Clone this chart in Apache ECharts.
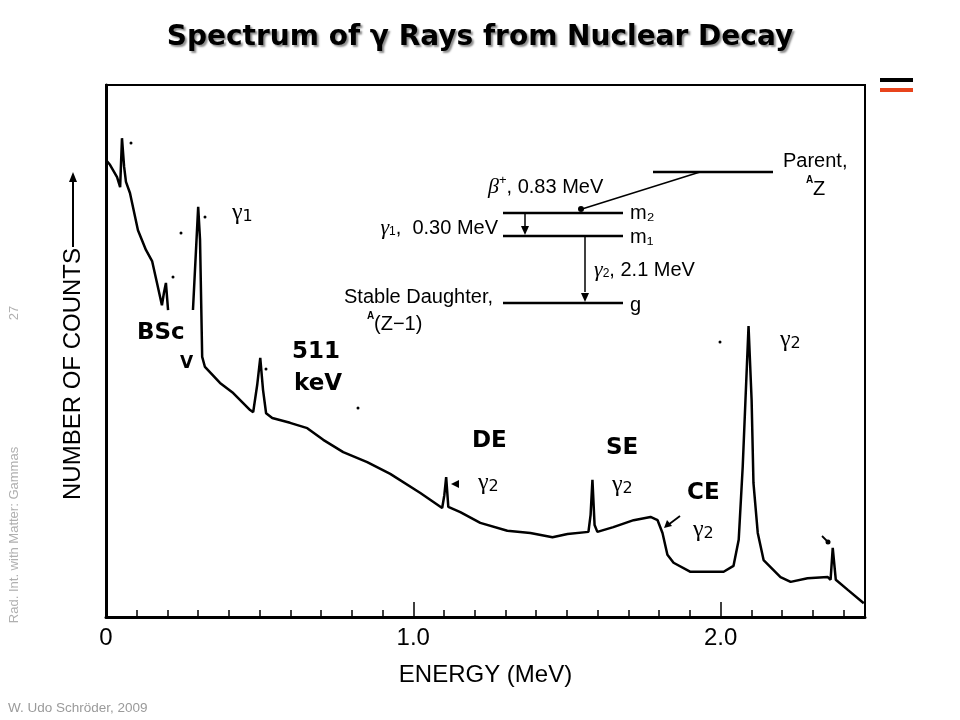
<!DOCTYPE html>
<html><head><meta charset="utf-8">
<script src="https://cdn.jsdelivr.net/npm/echarts@6/dist/echarts.min.js"></script>
<style>html,body{margin:0;padding:0;background:#fff}#c{width:960px;height:720px}</style>
</head><body><div id="c"></div>
<script>
// Energy (MeV) and relative counts
var energy = [0.000,0.013,0.036,0.046,0.052,0.059,0.065,0.078,0.104,0.130,0.150,0.166,0.182,0.189,0.195,0.202,0.240,
  0.283,0.300,0.306,0.313,0.322,0.371,0.414,0.469,0.479,0.492,0.502,0.511,0.521,0.541,0.599,0.655,0.707,0.772,0.850,0.925,
  1.023,1.094,1.101,1.107,1.114,1.153,1.218,1.306,1.381,1.453,1.502,1.570,1.577,1.583,1.590,1.599,1.651,1.717,1.772,1.795,
  1.811,1.827,1.847,1.902,2.010,2.042,2.059,2.072,2.081,2.091,2.101,2.107,2.121,2.140,2.195,2.228,2.283,2.349,2.358,2.365,
  2.375,2.414,2.466];
var counts = [85.9,85.0,82.7,80.8,90.0,84.6,81.8,79.7,72.7,69.0,66.9,62.8,58.6,61.1,62.8,57.7,null,
  57.7,77.1,70.9,48.9,47.0,44.0,42.1,38.9,38.5,43.6,48.7,42.7,38.3,37.4,36.5,35.5,33.3,31.0,29.1,26.9,
  23.3,20.5,22.9,26.3,20.7,19.7,17.7,16.2,15.8,15.0,15.6,16.0,19.2,25.8,17.3,16.0,16.9,18.2,18.8,18.2,
  15.8,11.7,10.2,8.5,8.5,9.6,14.5,28.2,40.8,54.7,40.8,25.2,15.8,10.7,7.5,6.6,7.3,7.5,7.0,13.0,
  7.0,5.1,2.6];
var majorTicks = ['0','1.0','2.0'];

var seriesData = energy.map(function(e,i){ return [e, counts[i]]; });

var chart = echarts.init(document.getElementById('c'), null, {renderer:'canvas'});
var dia = 'Liberation Sans, Arial, sans-serif';
var bold = 'DejaVu Sans, sans-serif';
function txt(x,y,t,opt){
  opt = opt||{};
  return {type:'text', x:x, y:y, z:10, rotation:opt.rot||0, style:Object.assign({text:t, fill:opt.color||'#000',
    font:opt.font||('20px '+dia), textAlign:opt.align||'left', textVerticalAlign:'middle'}, opt.style||{})};
}
function gam(x,y,sub,size){
  return {type:'text', x:x, y:y, z:10, style:{text:'{g|γ}{s|'+sub+'}', textAlign:'left', textVerticalAlign:'middle',
    rich:{g:{font:(size||24)+'px "Liberation Serif", serif', fill:'#000'},
          s:{font:'16px '+bold, fill:'#000', padding:[8,0,0,0]}}}};
}
function ln(x1,y1,x2,y2,w){
  return {type:'line', z:10, shape:{x1:x1,y1:y1,x2:x2,y2:y2}, style:{stroke:'#000', lineWidth:w||2.5}};
}
function head(x,y,dir){
  var pts = dir==='up' ? [[x,y],[x-4,y+10],[x+4,y+10]] : [[x,y],[x-4,y-9],[x+4,y-9]];
  return {type:'polygon', z:10, shape:{points:pts}, style:{fill:'#000'}};
}
function dot(x,y,r){ return {type:'circle', z:10, shape:{cx:x,cy:y,r:r||1.5}, style:{fill:'#000'}}; }

var graphics = [
  {type:'text', x:480, y:38, z:10, style:{text:'Spectrum of γ Rays from Nuclear Decay', font:'bold 28px '+bold,
    fill:'#000', textAlign:'center', textVerticalAlign:'middle', textShadowColor:'rgba(0,0,0,0.45)',
    textShadowOffsetX:2, textShadowOffsetY:2, textShadowBlur:2}},
  {type:'rect', z:10, shape:{x:880,y:78,width:33,height:4}, style:{fill:'#000'}},
  {type:'rect', z:10, shape:{x:880,y:88,width:33,height:4}, style:{fill:'#e8441c'}},
  txt(73,374,'NUMBER OF COUNTS',{rot:Math.PI/2, align:'center', font:'24px '+dia}),
  ln(73,247,73,182,2), head(73,172,'up'),
  txt(8,708,'W. Udo Schröder, 2009',{font:'13.5px '+dia, color:'#9a9a9a'}),
  txt(14,535,'Rad. Int. with Matter: Gammas',{rot:Math.PI/2, align:'center', font:'13px '+dia, color:'#b0b0b0'}),
  txt(14,313,'27',{rot:Math.PI/2, align:'center', font:'13px '+dia, color:'#b0b0b0'}),
  ln(653,172,773,172,2.5),
  txt(783,161,'Parent,'),
  txt(806,180,'A',{font:'bold 10px '+dia}),
  txt(813,189,'Z'),
  {type:'text', x:488, y:187, z:10, style:{text:'{b|β}{p|+}{n|, 0.83 MeV}', textAlign:'left', textVerticalAlign:'middle',
    rich:{b:{font:'italic 22px "Liberation Serif", serif', fill:'#000'}, p:{font:'13px '+dia, padding:[0,0,14,0], fill:'#000'},
          n:{font:'20px '+dia, fill:'#000'}}}},
  ln(700,172,582,209,1.5), dot(581,209,3),
  ln(503,213,623,213,2.5), txt(630,213,'m₂'),
  ln(503,236,623,236,2.5), txt(630,237,'m₁'),
  ln(525,213,525,226,1.5), head(525,235,'down'),
  {type:'text', x:498, y:228, z:10, style:{text:'{b|γ}{s|1}{n|,  0.30 MeV}', textAlign:'right', textVerticalAlign:'middle',
    rich:{b:{font:'italic 22px "Liberation Serif", serif', fill:'#000'}, s:{font:'12px '+dia, padding:[8,0,0,0], fill:'#000'},
          n:{font:'20px '+dia, fill:'#000'}}}},
  ln(585,236,585,292,1.5), head(585,302,'down'),
  {type:'text', x:594, y:270, z:10, style:{text:'{b|γ}{s|2}{n|, 2.1 MeV}', textAlign:'left', textVerticalAlign:'middle',
    rich:{b:{font:'italic 22px "Liberation Serif", serif', fill:'#000'}, s:{font:'12px '+dia, padding:[8,0,0,0], fill:'#000'},
          n:{font:'20px '+dia, fill:'#000'}}}},
  ln(503,303,623,303,2.5), txt(630,305,'g'),
  txt(493,297,'Stable Daughter,',{align:'right'}),
  txt(367,316,'A',{font:'bold 10px '+dia}),
  txt(374,324,'(Z−1)'),
  txt(137,333,'BSc',{font:'bold 23px '+bold}),
  txt(180,364,'V',{font:'bold 17px '+bold}),
  txt(292,352,'511',{font:'bold 23px '+bold}),
  txt(294,384,'keV',{font:'bold 23px '+bold}),
  txt(472,441,'DE',{font:'bold 23px '+bold}),
  txt(606,448,'SE',{font:'bold 23px '+bold}),
  txt(687,493,'CE',{font:'bold 23px '+bold}),
  gam(232,213,'1'), gam(478,483,'2'), gam(612,485,'2'), gam(693,530,'2'), gam(780,340,'2'),
  {type:'polygon', z:10, shape:{points:[[451,484],[459,480],[459,488]]}, style:{fill:'#000'}},
  ln(680,516,668,525,1.8), {type:'polygon', z:10, shape:{points:[[664,528],[667,520],[672,526]]}, style:{fill:'#000'}},
  ln(822,536,827,541,1.8), dot(828,542,2.5),
  dot(131,143), dot(205,217), dot(181,233), dot(173,277), dot(266,369), dot(358,408), dot(720,342)
];

chart.setOption({
  animation:false,
  backgroundColor:'#fff',
  grid:{left:106, right:95, top:85, bottom:103, show:true, borderColor:'#000', borderWidth:2, backgroundColor:'transparent'},
  xAxis:[
    {type:'value', min:0, max:2.47, interval:0.1, position:'bottom',
     axisLine:{show:true, lineStyle:{color:'#000', width:3}},
     axisTick:{show:true, inside:true, length:7, lineStyle:{color:'#000', width:1.5}},
     axisLabel:{show:false}, splitLine:{show:false}},
    {type:'value', min:0, max:2.47, interval:1, position:'bottom',
     axisLine:{show:false},
     axisTick:{show:true, inside:true, length:15, lineStyle:{color:'#000', width:1.5}},
     axisLabel:{show:true, color:'#000', fontSize:24, fontFamily:dia, margin:9, showMaxLabel:false,
       formatter:function(v){ var i = Math.round(v); return (Math.abs(v-i)<1e-6 && i<majorTicks.length) ? majorTicks[i] : ''; }},
     splitLine:{show:false},
     name:'ENERGY (MeV)', nameLocation:'middle', nameGap:46,
     nameTextStyle:{color:'#000', fontSize:24, fontFamily:dia}}
  ],
  yAxis:{type:'value', min:0, max:100,
    axisLine:{show:true, lineStyle:{color:'#000', width:3}},
    axisTick:{show:false}, axisLabel:{show:false}, splitLine:{show:false}},
  series:[{type:'line', xAxisIndex:0, yAxisIndex:0, data:seriesData, showSymbol:false, connectNulls:false,
    lineStyle:{color:'#000', width:2.5}, smooth:false, z:5}],
  graphic:graphics
});
</script></body></html>
